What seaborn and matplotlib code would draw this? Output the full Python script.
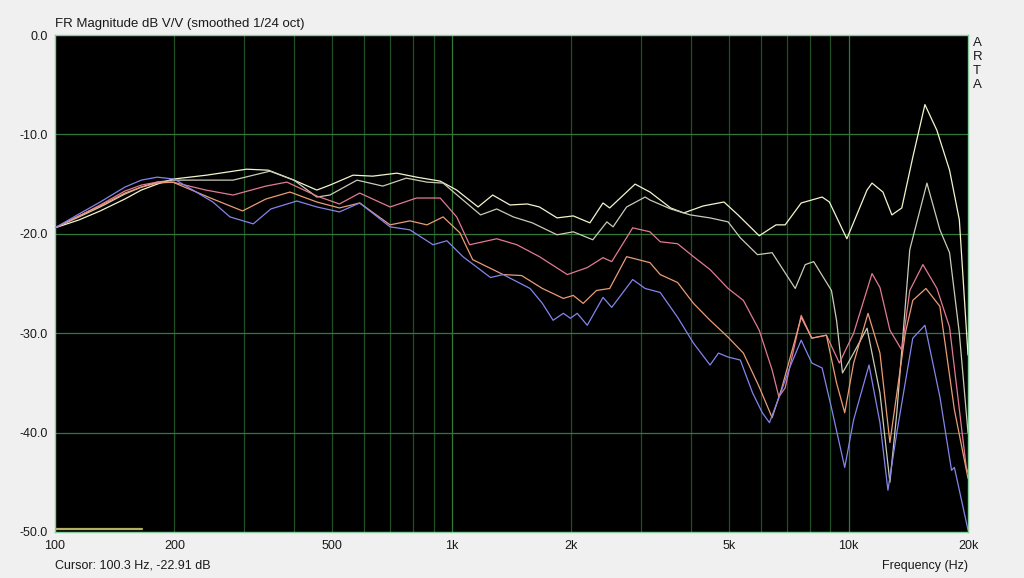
import numpy as np
import pandas as pd
import matplotlib
matplotlib.use('Agg')
import matplotlib.pyplot as plt
import seaborn as sns

# --- curve data (Hz, dB) ---
white_hz = [100, 115, 130, 150, 165, 181, 198, 241, 304, 345, 400, 457, 493, 564, 632, 727, 815,
            935, 1029, 1165, 1268, 1402, 1550, 1663, 1842, 2024, 2229, 2405, 2500, 2897, 3158,
            3561, 3842, 4300, 4853, 5265, 5954, 6565, 6922, 7597, 8578, 8946, 9902, 11131,
            11459, 12207, 12858, 13618, 14517, 15576, 16700, 17970, 19020, 20000]
white_db = [-19.4, -18.6, -17.7, -16.5, -15.6, -15.0, -14.5, -14.1, -13.5, -13.6, -14.6, -15.6,
            -15.1, -14.1, -14.2, -13.9, -14.3, -14.7, -15.6, -17.3, -16.1, -17.1, -17.0, -17.3,
            -18.4, -18.2, -18.9, -16.9, -17.4, -15.0, -15.8, -17.4, -17.9, -17.2, -16.8, -18.1,
            -20.2, -19.1, -19.1, -16.9, -16.3, -16.8, -20.5, -15.6, -14.9, -15.8, -18.1, -17.4,
            -12.3, -7.0, -9.6, -13.6, -18.6, -32.2]

grey_hz = [100, 115, 130, 150, 165, 181, 198, 281, 348, 400, 457, 493, 577, 670, 768, 866, 951,
           1067, 1182, 1298, 1429, 1596, 1842, 2024, 2267, 2460, 2550, 2758, 3071, 3158, 3561,
           3993, 4477, 4970, 5335, 5895, 6418, 7338, 7776, 8168, 9054, 9326, 9654, 10300,
           11131, 11999, 12712, 13232, 14265, 15758, 16990, 17970, 19020, 20000]
grey_db = [-19.4, -18.3, -17.3, -16.0, -15.3, -14.8, -14.6, -14.6, -13.7, -14.6, -16.3, -16.1,
           -14.6, -15.2, -14.4, -14.8, -14.9, -16.6, -18.1, -17.5, -18.3, -18.9, -20.1, -19.8,
           -20.6, -18.8, -19.3, -17.3, -16.3, -16.6, -17.5, -18.1, -18.4, -18.8, -20.4, -22.1,
           -21.9, -25.5, -23.1, -22.8, -25.7, -28.7, -34.0, -32.0, -29.5, -36.0, -45.0, -38.0,
           -21.6, -14.9, -19.6, -21.9, -30.0, -40.0]

pink_hz = [100, 115, 130, 150, 165, 181, 198, 240, 281, 340, 384, 457, 521, 586, 699, 815, 935,
           1029, 1109, 1298, 1459, 1663, 1955, 2195, 2405, 2530, 2857, 3158, 3352, 3708, 4066,
           4477, 4970, 5431, 5954, 6418, 6673, 6922, 7597, 8079, 8794, 9480, 10300, 11459,
           11999, 12712, 13618, 14265, 15395, 16700, 17970, 19800, 20000]
pink_db = [-19.4, -18.2, -17.1, -15.7, -15.1, -14.8, -14.8, -15.6, -16.1, -15.2, -14.8, -16.2,
           -17.0, -15.9, -17.3, -16.4, -16.4, -18.3, -21.1, -20.5, -21.1, -22.3, -24.1, -23.4,
           -22.4, -22.8, -19.4, -19.8, -20.8, -21.0, -22.3, -23.6, -25.5, -26.7, -29.7, -33.7,
           -36.4, -35.5, -28.2, -30.5, -30.2, -33.0, -30.0, -24.0, -25.4, -29.7, -31.7, -25.7,
           -23.1, -25.5, -29.4, -43.5, -44.0]

orange_hz = [100, 115, 130, 150, 165, 181, 198, 250, 297, 340, 391, 457, 521, 586, 699, 784,
             866, 951, 1048, 1129, 1347, 1500, 1692, 1911, 2024, 2144, 2316, 2500, 2758, 3158,
             3352, 3708, 4066, 4477, 4970, 5431, 5954, 6418, 6789, 7597, 8079, 8794, 9326,
             9779, 10300, 11196, 11999, 12712, 13900, 14517, 15667, 16990, 18480, 20000]
orange_db = [-19.4, -18.2, -17.2, -15.9, -15.3, -14.9, -14.8, -16.5, -17.7, -16.5, -15.8, -16.8,
             -17.4, -16.9, -19.1, -18.7, -19.1, -18.3, -19.9, -22.6, -24.1, -24.2, -25.5, -26.5,
             -26.2, -27.0, -25.7, -25.5, -22.3, -22.9, -24.1, -24.9, -27.0, -28.7, -30.4, -32.0,
             -35.4, -38.5, -35.5, -28.4, -30.5, -30.2, -35.0, -38.0, -33.0, -28.0, -32.0, -41.0,
             -30.0, -26.7, -25.5, -27.3, -37.7, -44.6]

blue_hz = [100, 115, 130, 150, 165, 181, 200, 250, 276, 316, 350, 407, 457, 521, 586, 699, 784,
           897, 972, 1067, 1252, 1347, 1575, 1692, 1800, 1911, 1991, 2071, 2195, 2405, 2530,
           2857, 3071, 3352, 3708, 4066, 4477, 4700, 4970, 5335, 5729, 6061, 6318, 6673, 7100,
           7597, 8079, 8578, 9054, 9779, 10300, 11261, 11999, 12566, 13232, 14517, 15576,
           16990, 18180, 18480, 20000]
blue_db = [-19.4, -18.0, -16.8, -15.3, -14.6, -14.3, -14.5, -16.8, -18.3, -19.0, -17.5, -16.7,
           -17.3, -17.8, -16.9, -19.3, -19.6, -21.1, -20.7, -22.3, -24.4, -24.1, -25.5, -27.0,
           -28.7, -28.0, -28.5, -28.0, -29.2, -26.4, -27.4, -24.6, -25.5, -25.9, -28.4, -31.0,
           -33.2, -32.0, -32.4, -32.7, -36.0, -38.0, -39.0, -36.5, -33.5, -30.7, -33.0, -33.5,
           -37.5, -43.5, -38.7, -33.2, -39.0, -45.8, -40.0, -30.5, -29.2, -36.4, -43.8, -43.5,
           -49.8]

# little reference marker at the bottom left of the ARTA window
marker_hz = [100, 166]
marker_db = [-49.7, -49.7]

curve_names = ['white', 'grey', 'pink', 'orange', 'blue']
curve_colors = ['#f4f4cc', '#c9ccb4', '#e27a94', '#eb9c74', '#8484ec']

grid_hz = [200, 300, 400, 500, 600, 700, 800, 900,
           2000, 3000, 4000, 5000, 6000, 7000, 8000, 9000]
decade_hz = [1000, 10000]
grid_db = [-10, -20, -30, -40]
tick_hz = [100, 200, 500, 1000, 2000, 5000, 10000, 20000]
tick_labels = ['100', '200', '500', '1k', '2k', '5k', '10k', '20k']
ytick_db = [0, -10, -20, -30, -40, -50]

# --- long-form table for seaborn ---
frames = []
for name, hz, db in zip(curve_names,
                        [white_hz, grey_hz, pink_hz, orange_hz, blue_hz],
                        [white_db, grey_db, pink_db, orange_db, blue_db]):
    frames.append(pd.DataFrame({'freq': hz, 'db': db, 'curve': name}))
df = pd.concat(frames, ignore_index=True)

sns.set_style('dark')
plt.rcParams['font.family'] = ['Liberation Sans', 'DejaVu Sans']

fig = plt.figure(figsize=(10.24, 5.78), dpi=100, facecolor='#f0f0f0')
ax = fig.add_axes([55 / 1024, 1 - 532 / 578, 913 / 1024, 497 / 578])
ax.set_facecolor('black')

ax.set_xscale('log')
ax.set_xlim(100, 20000)
ax.set_ylim(-50, 0)

# grid
for f in grid_hz:
    ax.axvline(f, color='#1f5025', lw=0.9, zorder=1)
for f in decade_hz:
    ax.axvline(f, color='#33783a', lw=0.9, zorder=1)
for d in grid_db:
    ax.axhline(d, color='#33783a', lw=0.9, zorder=1)

sns.lineplot(data=df, x='freq', y='db', hue='curve', hue_order=curve_names,
             palette=dict(zip(curve_names, curve_colors)), estimator=None,
             sort=False, lw=0.9, legend=False, ax=ax, zorder=3)
ax.plot(marker_hz, marker_db, color='#b4b066', lw=1.6, zorder=3)

ax.set_xticks(tick_hz)
ax.set_xticklabels(tick_labels)
ax.xaxis.set_minor_locator(matplotlib.ticker.NullLocator())
ax.set_yticks(ytick_db)
ax.set_yticklabels([f'{v:.1f}' for v in ytick_db])
ax.tick_params(length=0, labelsize=9, colors='#1a1a1a', pad=5)
ax.tick_params(axis='x', pad=6)
ax.set_xlabel('')
ax.set_ylabel('')
ax.grid(False)
for s in ax.spines.values():
    s.set_color('#86cc9c')
    s.set_linewidth(1.0)
    s.set_visible(True)

fig.text(55 / 1024, 1 - 24 / 578, 'FR Magnitude dB V/V (smoothed 1/24 oct)',
         fontsize=9.5, color='#1a1a1a', va='center', ha='left')
fig.text(55 / 1024, 1 - 566 / 578, 'Cursor: 100.3 Hz, -22.91 dB',
         fontsize=9, color='#1a1a1a', va='center', ha='left')
fig.text(968 / 1024, 1 - 566 / 578, 'Frequency (Hz)',
         fontsize=9, color='#1a1a1a', va='center', ha='right')
fig.text(973 / 1024, 1 - 37 / 578, 'A\nR\nT\nA', fontsize=9.5, color='#1a1a1a',
         va='top', ha='left', linespacing=1.22)

fig.savefig('out.png', dpi=100, facecolor=fig.get_facecolor())
